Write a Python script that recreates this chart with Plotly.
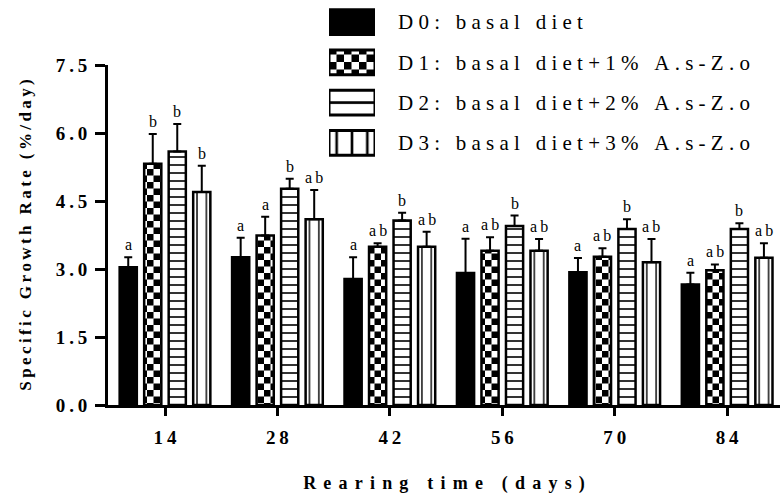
import plotly.graph_objects as go

# ---------------- data ----------------
days = ["14", "28", "42", "56", "70", "84"]
series_names = ["D0: basal diet",
                "D1: basal diet+1% A.s-Z.o",
                "D2: basal diet+2% A.s-Z.o",
                "D3: basal diet+3% A.s-Z.o"]
d0_mean = [3.04, 3.26, 2.78, 2.91, 2.93, 2.66]
d1_mean = [5.32, 3.74, 3.49, 3.40, 3.27, 2.97]
d2_mean = [5.59, 4.77, 4.07, 3.95, 3.88, 3.88]
d3_mean = [4.70, 4.10, 3.49, 3.40, 3.15, 3.25]
d0_err = [0.22, 0.43, 0.48, 0.76, 0.31, 0.26]
d1_err = [0.66, 0.41, 0.08, 0.30, 0.19, 0.13]
d2_err = [0.61, 0.22, 0.17, 0.23, 0.22, 0.13]
d3_err = [0.58, 0.64, 0.33, 0.26, 0.51, 0.32]
d0_sig = ["a", "a", "a", "a", "a", "a"]
d1_sig = ["b", "a", "ab", "ab", "ab", "ab"]
d2_sig = ["b", "b", "b", "b", "b", "b"]
d3_sig = ["b", "ab", "ab", "ab", "ab", "ab"]
y_ticks = [0.0, 1.5, 3.0, 4.5, 6.0, 7.5]
x_title = "Rearing time (days)"
y_title = "Specific Growth Rate (%/day)"

means = [d0_mean, d1_mean, d2_mean, d3_mean]
errs = [d0_err, d1_err, d2_err, d3_err]
sigs = [d0_sig, d1_sig, d2_sig, d3_sig]

SP = "\u2009"
SP_LEG = "\u2005"


def spaced(s, sep=SP):
    return sep.join(list(s))


SERIF = "Liberation Serif"
BARGAP = 0.128
GROUPGAP = 0.30

bar_styles = [
    dict(color="black"),
    dict(color="white", pattern=dict(shape=".", fgcolor="black", bgcolor="white",
                                     size=13, solidity=0.5, fillmode="replace")),
    dict(color="white", pattern=dict(shape="-", fgcolor="black", bgcolor="white",
                                     size=8, solidity=0.2, fillmode="replace")),
    dict(color="white", pattern=dict(shape="|", fgcolor="black", bgcolor="white",
                                     size=9.37, solidity=0.15, fillmode="replace")),
]
swatch_styles = [
    dict(color="black"),
    dict(color="white", pattern=dict(shape=".", fgcolor="black", bgcolor="white",
                                     size=15, solidity=0.5, fillmode="replace")),
    dict(color="white", pattern=dict(shape="-", fgcolor="black", bgcolor="white",
                                     size=22.36, solidity=0.12, fillmode="replace")),
    dict(color="white", pattern=dict(shape="|", fgcolor="black", bgcolor="white",
                                     size=15.33, solidity=0.17, fillmode="replace")),
]

xs = list(range(len(days)))
fig = go.Figure()
for j in range(4):
    fig.add_trace(go.Bar(
        x=xs, y=means[j], name=series_names[j],
        marker=dict(line=dict(color="black", width=2.5), **bar_styles[j]),
        error_y=dict(type="data", array=errs[j], arrayminus=[0] * len(days),
                     symmetric=False, color="black", thickness=2, width=4),
        showlegend=False, xaxis="x", yaxis="y",
    ))

# significance letters
slot = (1 - BARGAP) / 4
for j in range(4):
    for i in range(len(days)):
        fig.add_annotation(
            x=i + (j - 1.5) * slot, y=means[j][i] + errs[j][i],
            xref="x", yref="y", text=spaced(sigs[j][i]), showarrow=False,
            yanchor="bottom", yshift=2,
            font=dict(family=SERIF, size=16, color="black"))

# legend drawn as a small side subplot (swatch bars + right-side labels)
legend_labels = [spaced(s, SP_LEG) for s in series_names]
for j in range(4):
    fig.add_trace(go.Bar(
        x=[1], y=[legend_labels[j]], orientation="h", offsetgroup="leg",
        marker=dict(line=dict(color="black", width=3), **swatch_styles[j]),
        showlegend=False, xaxis="x2", yaxis="y2", hoverinfo="skip",
    ))

H_PLOT = 405.0
fig.update_layout(
    width=782, height=497,
    margin=dict(l=108, r=2, t=0, b=92),
    paper_bgcolor="white", plot_bgcolor="white",
    barmode="group", bargap=BARGAP, bargroupgap=GROUPGAP,
    font=dict(family=SERIF, color="black"),
    xaxis=dict(
        range=[-0.507, 5.47], tickvals=xs, ticktext=[spaced(d) for d in days],
        showline=True, linecolor="black", linewidth=3,
        ticks="outside", ticklen=8, tickwidth=3, tickcolor="black",
        showgrid=False, zeroline=False, ticklabelstandoff=5, automargin=False,
        tickfont=dict(family=SERIF, size=19, color="black", weight="bold"),
        title=dict(text=spaced(x_title, SP + SP), standoff=30,
                   font=dict(family=SERIF, size=18, color="black", weight="bold")),
        anchor="y",
    ),
    yaxis=dict(
        domain=[0, 340 / H_PLOT], range=[0, 7.5], tickvals=y_ticks,
        ticktext=[spaced(f"{v:.1f}") for v in y_ticks],
        showline=True, linecolor="black", linewidth=3,
        ticks="outside", ticklen=10, tickwidth=3, tickcolor="black",
        showgrid=False, zeroline=False, ticklabelstandoff=4, automargin=False,
        tickfont=dict(family=SERIF, size=19, color="black", weight="bold"),
        title=dict(text=spaced(y_title), standoff=20,
                   font=dict(family=SERIF, size=17, color="black", weight="bold")),
        anchor="x",
    ),
    xaxis2=dict(domain=[(329 - 108) / 672, (375 - 108) / 672], range=[0, 1],
                visible=False, anchor="y2", fixedrange=True, automargin=False),
    yaxis2=dict(domain=[(H_PLOT - 163) / H_PLOT, (H_PLOT - 2) / H_PLOT],
                autorange="reversed", side="right", anchor="x2",
                showline=False, showgrid=False, zeroline=False, ticks="",
                ticklabelstandoff=22, automargin=False, fixedrange=True,
                tickfont=dict(family=SERIF, size=21, color="black")),
)

post = """
document.body.style.margin = '0';
var gd = document.getElementById('{plot_id}');
function checker(){
  var ns = 'http://www.w3.org/2000/svg';
  gd.querySelectorAll('pattern').forEach(function(p){
    var c = p.querySelector('circle');
    if(!c) return;
    var w = parseFloat(p.getAttribute('width')), h = parseFloat(p.getAttribute('height'));
    while(p.firstChild) p.removeChild(p.firstChild);
    [[0,0,w,h,'white'],[0,0,w/2,h/2,'black'],[w/2,h/2,w/2,h/2,'black']].forEach(function(r){
      var e = document.createElementNS(ns,'rect');
      e.setAttribute('x', r[0]); e.setAttribute('y', r[1]);
      e.setAttribute('width', r[2]); e.setAttribute('height', r[3]);
      e.setAttribute('fill', r[4]);
      p.appendChild(e);
    });
  });
}
checker();
gd.on('plotly_afterplot', checker);
"""
fig.write_html("out.html", post_script=post, config={"displayModeBar": False})
